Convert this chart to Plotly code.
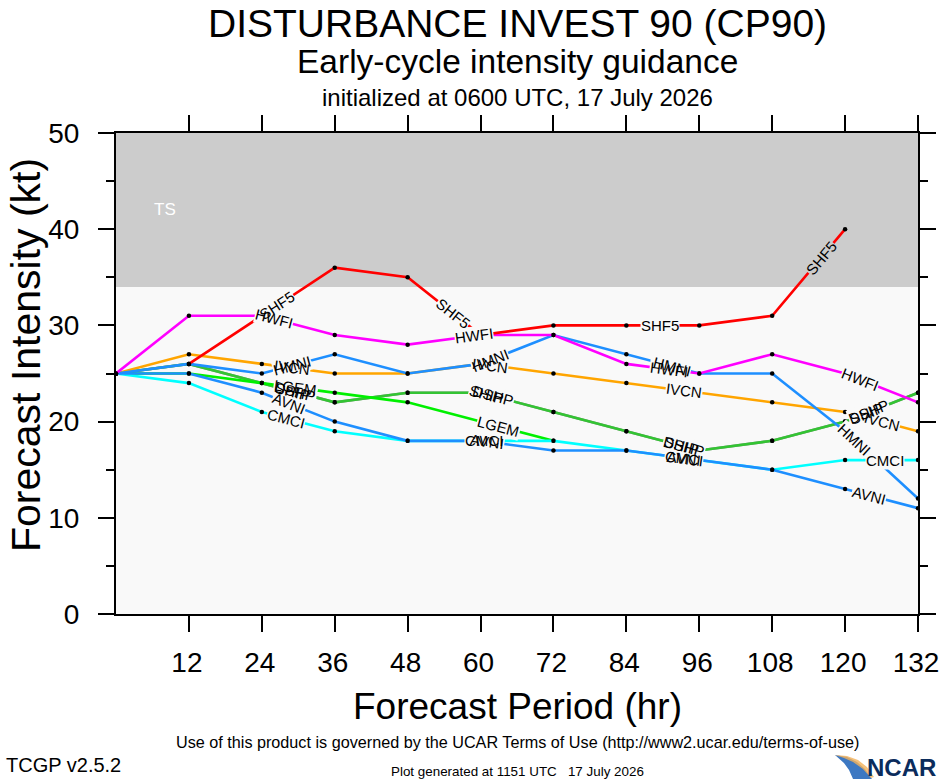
import numpy as np
import plotly.graph_objects as go

# forecast hours and intensities (kt)
hours = [0, 12, 24, 36, 48, 60, 72, 84, 96, 108, 120, 132]

shf5 = [None, 26, 31, 36, 35, 29, 30, 30, 30, 31, 40, None]
hwfi = [25, 31, 31, 29, 28, 29, 29, 26, 25, 27, 25, 22]
hmni = [25, 26, 25, 27, 25, 26, 29, 27, 25, 25, 19, 12]
ivcn = [25, 27, 26, 25, 25, 26, 25, 24, 23, 22, 21, 19]
ship = [25, 26, 24, 22, 23, 23, 21, 19, 17, 18, 20, 23]
dshp = [25, 26, 24, 22, 23, 23, 21, 19, 17, 18, 20, 23]
lgem = [25, 25, 24, 23, 22, 20, 18, None, None, None, None, None]
avni = [25, 25, 23, 20, 18, 18, 17, 17, 16, 15, 13, 11]
cmci = [25, 24, 21, 19, 18, 18, 18, 17, 16, 15, 16, 16]

x_ticks = [12, 24, 36, 48, 60, 72, 84, 96, 108, 120, 132]
y_ticks = [0, 10, 20, 30, 40, 50]
ts_floor = 34

# drawing order, colour and where the in-line name labels sit (hours)
models = [
    ("SHIP", ship, "#8c8c8c", [29, 61, 93, 123.5]),
    ("DSHP", dshp, "#33c433", [29.5, 62, 93.5, 124]),
    ("LGEM", lgem, "#00f000", [29.5, 63]),
    ("CMCI", cmci, "#00ffff", [28, 60.5, 93.5, 126.5]),
    ("AVNI", avni, "#1e8fff", [28.5, 61, 93.5, 124]),
    ("IVCN", ivcn, "#ffa500", [29, 61.5, 93.5, 126]),
    ("HMNI", hmni, "#1e8fff", [29, 61.5, 91.5, 121.5]),
    ("HWFI", hwfi, "#ff00ff", [26, 59, 91, 122.5]),
    ("SHF5", shf5, "#ff0000", [26.5, 55.5, 89.5, 116]),
]

PLOT_BG = "#f9f9f9"
BAND = "#cccccc"
FONT = "Liberation Sans"

W, H = 940, 780
L, T = 116, 133
PW, PH = 802, 481
R, B = W - L - PW, H - T - PH
px_hr = PW / 132.0
px_kt = PH / 50.0

fig = go.Figure()

for name, vals, color, _ in models:
    fig.add_trace(go.Scatter(
        x=hours, y=vals, mode="lines+markers", name=name,
        line=dict(color=color, width=2.6),
        marker=dict(color="black", size=4.5),
        connectgaps=False, showlegend=False,
    ))

bg_notes = []
txt_notes = []
for name, vals, color, where in models:
    hx = np.array([h for h, v in zip(hours, vals) if v is not None], float)
    vy = np.array([v for v in vals if v is not None], float)
    for h in where:
        v = float(np.interp(h, hx, vy))
        i = int(np.clip(np.searchsorted(hx, h) - 1, 0, len(hx) - 2))
        dv = (vy[i + 1] - vy[i]) * px_kt
        dh = (hx[i + 1] - hx[i]) * px_hr
        ang = -np.degrees(np.arctan2(dv, dh))
        bg = BAND if v >= ts_floor else PLOT_BG
        common = dict(x=h, y=v, xref="x", yref="y", text=name, showarrow=False,
                      textangle=ang, xanchor="center", yanchor="middle")
        bg_notes.append(dict(common, bgcolor=bg, borderpad=0,
                             font=dict(family=FONT, size=15, color="rgba(0,0,0,0)")))
        txt_notes.append(dict(common, font=dict(family=FONT, size=15, color="black")))


# page pixel -> paper coordinates
def py(p):
    return (T + PH - p) / PH


def px(p):
    return (p - L) / PW


page_notes = [
    dict(x=0.5, y=py(23), text="DISTURBANCE INVEST 90 (CP90)", font=dict(size=39)),
    dict(x=0.5, y=py(62), text="Early-cycle intensity guidance", font=dict(size=33.5)),
    dict(x=0.5, y=py(97), text="initialized at 0600 UTC, 17 July 2026", font=dict(size=24)),
    dict(x=0.5, y=py(706), text="Forecast Period (hr)", font=dict(size=37)),
    dict(x=px(26), y=py(355), text="Forecast Intensity (kt)", textangle=-90, font=dict(size=41)),
    dict(x=0.5, y=py(742), text="Use of this product is governed by the UCAR Terms of Use (http://www2.ucar.edu/terms-of-use)",
         font=dict(size=16.2)),
    dict(x=0.5, y=py(771), text="Plot generated at 1151 UTC   17 July 2026", font=dict(size=13.4)),
    dict(x=px(4), y=py(765), text="TCGP v2.5.2", xanchor="left", font=dict(size=20)),
    dict(x=px(938), y=py(767), text="<b>NCAR</b>", xanchor="right", font=dict(size=24, color="#0b2c5c")),
]
for n in page_notes:
    n.setdefault("xanchor", "center")
    n.update(xref="paper", yref="paper", showarrow=False, yanchor="middle")
    n["font"] = dict(dict(family=FONT, color="black"), **n["font"])

ts_note = dict(x=8, y=42, xref="x", yref="y", text="TS", showarrow=False,
               font=dict(family=FONT, size=17, color="white"))


def path(points):
    out = []
    for k, (a, b) in enumerate(points):
        out.append(("M" if k == 0 else "L") + f"{px(a):.4f},{py(b):.4f}")
    return " ".join(out) + " Z"


swoosh = [(835, 755), (847, 757), (857, 762), (865, 769), (872, 779), (853, 779),
          (849, 770), (844, 763)]
glow = [(835, 755), (847, 756), (858, 760), (867, 767), (874, 777), (871, 778),
        (863, 769), (853, 762), (844, 758)]

fig.update_layout(
    width=W, height=H, autosize=False,
    margin=dict(l=L, r=R, t=T, b=B),
    paper_bgcolor="white", plot_bgcolor=PLOT_BG,
    font=dict(family=FONT, color="black"),
    shapes=[
        dict(type="rect", xref="paper", x0=0, x1=1, yref="y", y0=ts_floor, y1=50,
             fillcolor=BAND, line=dict(width=0), layer="below"),
        dict(type="path", xref="paper", yref="paper", path=path(swoosh),
             fillcolor="#3d78c2", line=dict(width=0)),
        dict(type="path", xref="paper", yref="paper", path=path(glow),
             fillcolor="#f2b25a", line=dict(width=0), opacity=0.8),
    ],
    annotations=bg_notes + txt_notes + page_notes + [ts_note],
)

fig.update_xaxes(
    range=[0, 132], tickvals=x_ticks, ticks="outside", ticklen=16,
    tickwidth=1.6, tickcolor="black", showline=True, linewidth=2, linecolor="black",
    mirror="allticks", showgrid=False, zeroline=False, tickfont=dict(size=28),
    ticklabelstandoff=6, ticklabelshift=-2, automargin=False, ticklabeloverflow="allow",
)
fig.update_yaxes(
    range=[0, 50], tickvals=y_ticks, ticks="outside", ticklen=16, tickwidth=1.6,
    tickcolor="black", showline=True, linewidth=2, linecolor="black", mirror="allticks",
    showgrid=False, zeroline=False, tickfont=dict(size=28), ticklabelstandoff=13,
    minor=dict(dtick=5, ticks="outside", ticklen=8, tickwidth=1.6, tickcolor="black",
               showgrid=False),
    automargin=False,
)

# drop the browser's default 8px body margin so the figure sits at the page corner
fig.write_html("out.html", config={"displayModeBar": False},
               post_script="document.body.style.margin = '0';")
